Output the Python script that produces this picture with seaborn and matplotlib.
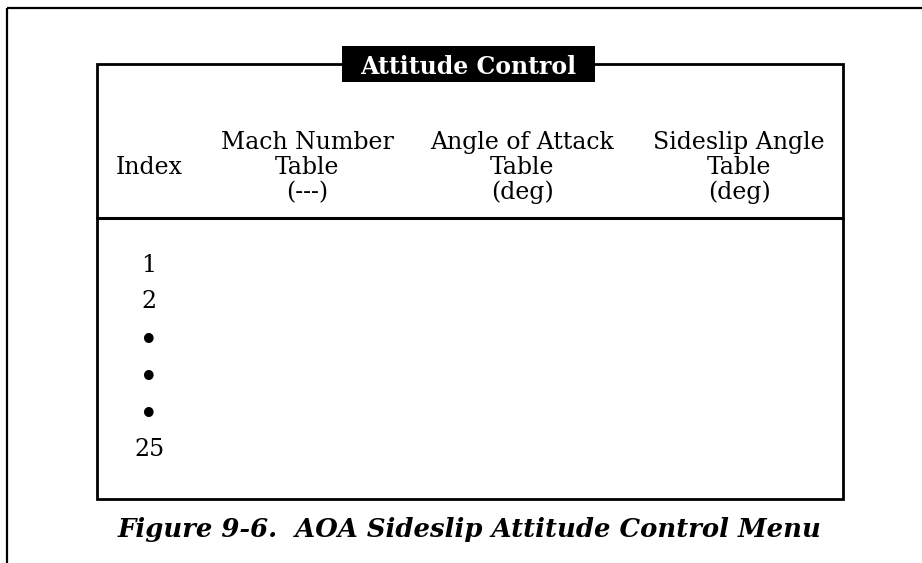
# -*- coding: utf-8 -*-
"""
AOA sideslip attitude control menu (figure 9-6), drawn as a framed table.
"""

import matplotlib
matplotlib.use("Agg")
import matplotlib.pyplot as plt
from matplotlib.patches import Rectangle
import seaborn as sns

plt.ioff()

TITLE = "Attitude Control"
CAPTION = "Figure 9-6.  AOA Sideslip Attitude Control Menu"
COLUMN_HEADERS = [
    ["Index"],
    ["Mach Number", "Table", "(---)"],
    ["Angle of Attack", "Table", "(deg)"],
    ["Sideslip Angle", "Table", "(deg)"],
]
INDEX_LABELS = ["1", "2", "\u2022", "\u2022", "\u2022", "25"]

# layout (pixel coordinates of the 922x563 canvas)
W, H = 922, 563
BOX = dict(left=97, right=843, top=64, bottom=499)
HEADER_SEP_Y = 218
COL_X = [149, 307, 522, 739]
HEADER_ROW_Y = [140, 165, 190]
FIRST_ROW_Y = 265
ROW_STEP = 37
SERIF = ["DejaVu Serif"]


def configure_plot_style():
    sns.set_theme(style="white")
    plt.rcParams.update({
        "figure.dpi": 100,
        "savefig.dpi": 100,
        "font.family": SERIF,
    })


def draw_menu():
    fig = plt.figure(figsize=(W / 100, H / 100))
    ax = fig.add_axes([0, 0, 1, 1])
    ax.set_xlim(0, W)
    ax.set_ylim(H, 0)
    ax.axis("off")

    # outer page frame: top and left only
    ax.plot([7, W], [8, 8], color="black", lw=1.6, solid_capstyle="butt")
    ax.plot([7, 7], [8, H], color="black", lw=1.6, solid_capstyle="butt")

    # inner menu box
    ax.add_patch(Rectangle((BOX["left"], BOX["top"]),
                           BOX["right"] - BOX["left"], BOX["bottom"] - BOX["top"],
                           fill=False, edgecolor="black", lw=2.0))
    ax.plot([BOX["left"], BOX["right"]], [HEADER_SEP_Y, HEADER_SEP_Y],
            color="black", lw=2.2)

    # title tab
    ax.add_patch(Rectangle((342, 46), 253, 36, facecolor="black",
                           edgecolor="none", zorder=3))
    ax.text(468.5, 64, TITLE, color="white", fontsize=17, fontweight="bold",
            ha="center", va="center_baseline", zorder=4)

    # column headers, bottom-aligned to the units row
    for x, lines in zip(COL_X, COLUMN_HEADERS):
        if len(lines) == 1:
            rows = [HEADER_ROW_Y[1]]
        else:
            rows = HEADER_ROW_Y[-len(lines):]
        for y, txt in zip(rows, lines):
            ax.text(x, y, txt, fontsize=17, ha="center",
                    va="center_baseline", color="black")

    # index entries (bullets drawn a bit larger, as in the printed menu)
    for i, label in enumerate(INDEX_LABELS):
        is_dot = label == "\u2022"
        y = FIRST_ROW_Y + i * ROW_STEP + (3 if is_dot else 0)
        ax.text(COL_X[0], y, label, fontsize=24 if is_dot else 17,
                ha="center", va="center", color="black")

    ax.text(470, 527, CAPTION, fontsize=18.6, fontweight="bold",
            fontstyle="italic", ha="center", va="center_baseline",
            color="black")

    fig.savefig("out.png", dpi=100, facecolor="white")
    plt.close(fig)


def main():
    configure_plot_style()
    draw_menu()


if __name__ == "__main__":
    main()
